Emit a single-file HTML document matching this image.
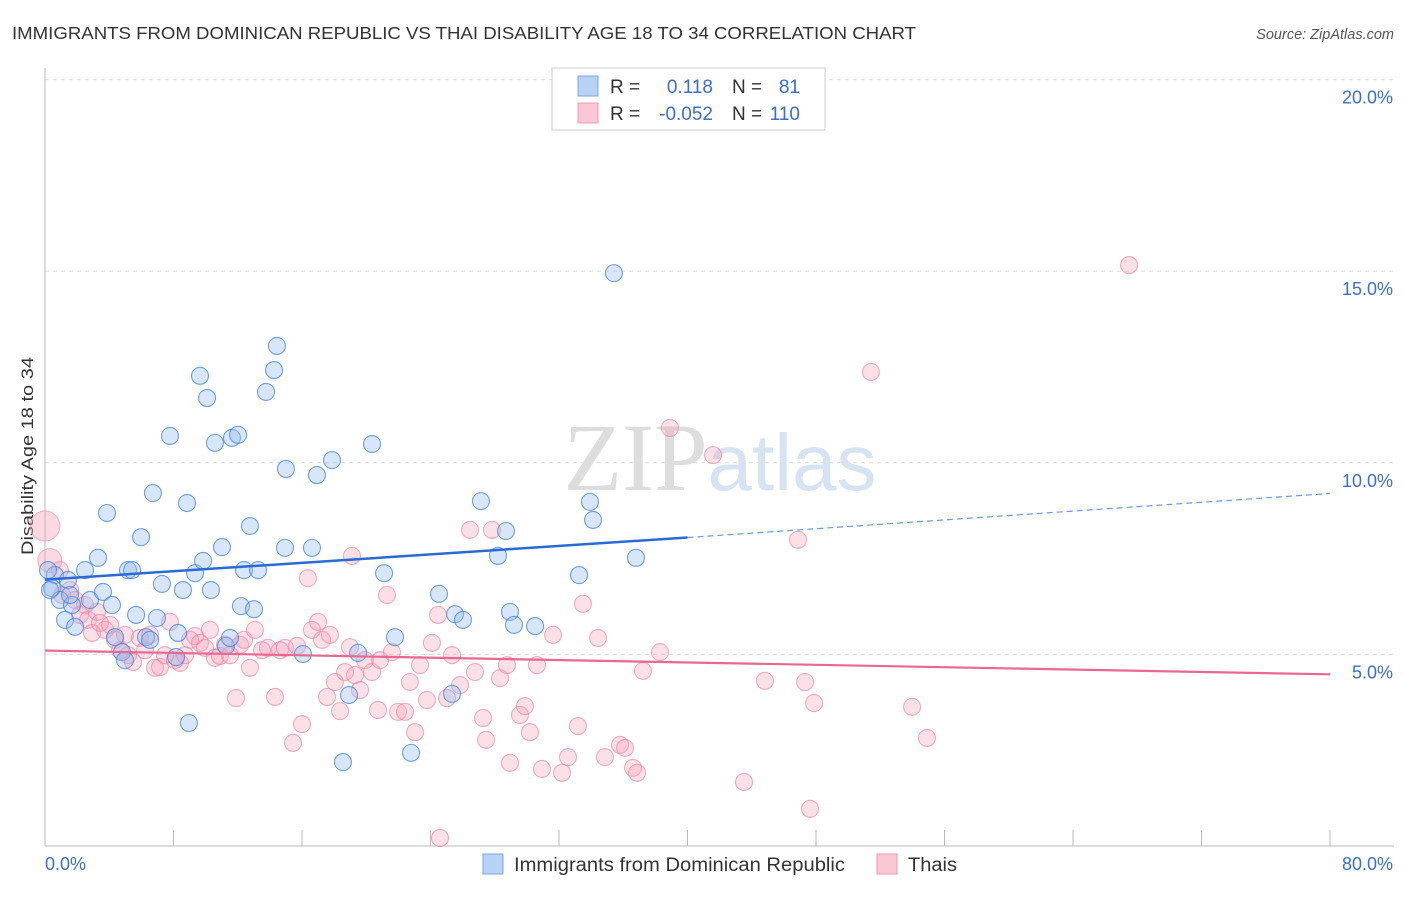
<!DOCTYPE html>
<html><head><meta charset="utf-8"><style>
body{margin:0;background:#fff;font-family:"Liberation Sans",sans-serif}
svg text{font-family:"Liberation Sans",sans-serif}
</style></head><body>
<svg id="c" width="1406" height="892" xmlns="http://www.w3.org/2000/svg">
<text x="12" y="39" font-size="17.5" fill="#333" textLength="904" lengthAdjust="spacingAndGlyphs">IMMIGRANTS FROM DOMINICAN REPUBLIC VS THAI DISABILITY AGE 18 TO 34 CORRELATION CHART</text>
<text x="1394" y="39" font-size="14.5" fill="#555" font-style="italic" text-anchor="end">Source: ZipAtlas.com</text>
<text x="720" y="490" font-size="96" fill="#e4e4e4" text-anchor="middle" font-family="Liberation Serif"><tspan font-family="Liberation Serif" fill="#ddd">ZIP</tspan><tspan fill="#d6e3f3" font-family="Liberation Sans" font-size="80">atlas</tspan></text>
<text x="33" y="456" font-size="17" fill="#333" text-anchor="middle" textLength="198" lengthAdjust="spacingAndGlyphs" transform="rotate(-90 33 456)">Disability Age 18 to 34</text>
<g id="grid"></g><g id="pts"></g><g id="lines"></g>
<g>
<rect x="552" y="68" width="273" height="62" fill="#fff" stroke="#ccc"/>
<rect x="578" y="76" width="20" height="20" fill="#b8d2f5" stroke="#7aa6e0"/>
<rect x="578" y="103" width="20" height="20" fill="#fbc7d5" stroke="#f09ab2"/>
<text x="610" y="93" font-size="19" fill="#333">R =</text>
<text x="713" y="93" font-size="19" fill="#3a6fd0" text-anchor="end">0.118</text>
<text x="732" y="93" font-size="19" fill="#333">N =</text>
<text x="800" y="93" font-size="19" fill="#3a6fd0" text-anchor="end">81</text>
<text x="610" y="120" font-size="19" fill="#333">R =</text>
<text x="713" y="120" font-size="19" fill="#3a6fd0" text-anchor="end">-0.052</text>
<text x="732" y="120" font-size="19" fill="#333">N =</text>
<text x="800" y="120" font-size="19" fill="#3a6fd0" text-anchor="end">110</text>
</g>
<g>
<rect x="483" y="854" width="20" height="20" fill="#b8d2f5" stroke="#7aa6e0"/>
<text x="514" y="871" font-size="19" fill="#333" textLength="331" lengthAdjust="spacingAndGlyphs">Immigrants from Dominican Republic</text>
<rect x="877" y="854" width="20" height="20" fill="#fbc7d5" stroke="#f09ab2"/>
<text x="908" y="871" font-size="19" fill="#333" textLength="49" lengthAdjust="spacingAndGlyphs">Thais</text>
</g>
<text x="45" y="870" font-size="18" fill="#3a6fd0">0.0%</text>
<text x="1393" y="870" font-size="18" fill="#3a6fd0" text-anchor="end">80.0%</text>
</svg>
<script>
const yTicks=[5,10,15,20];
const xTicks=[0,8,16,24,32,40,48,56,64,72,80];
const blueRaw=[[55,575],[52,588],[60,600],[68,580],[65,620],[75,627],[72,605],[85,570],[90,600],[98,558],[103,592],[107,513],[112,605],[115,637],[122,652],[125,660],[128,570],[132,570],[136,615],[141,537],[146,637],[150,640],[153,493],[157,618],[162,584],[170,436],[176,657],[178,633],[183,590],[187,503],[189,723],[195,573],[200,376],[203,561],[207,398],[211,590],[215,443],[222,547],[226,646],[230,638],[232,438],[238,435],[241,606],[244,570],[250,526],[254,609],[258,570],[266,392],[274,370],[277,346],[285,548],[286,469],[303,654],[312,548],[317,475],[332,460],[343,762],[349,695],[358,653],[372,444],[384,573],[395,637],[411,753],[439,594],[452,694],[455,614],[463,620],[481,501],[498,556],[506,531],[510,612],[514,625],[535,626],[590,502],[593,520],[579,575],[614,273],[636,558],[48,570],[50,590],[70,595]];
const pinkRaw=[[60,570],[62,595],[70,590],[75,600],[80,615],[85,605],[88,620],[92,633],[97,612],[100,623],[105,630],[110,625],[115,640],[120,650],[125,635],[128,655],[133,662],[140,638],[145,650],[150,635],[155,668],[160,667],[165,655],[170,622],[175,660],[180,663],[185,655],[190,640],[195,636],[200,643],[205,648],[210,630],[215,658],[220,656],[225,645],[230,655],[236,698],[240,645],[244,640],[250,668],[255,630],[262,650],[268,648],[275,697],[280,650],[285,648],[293,743],[297,646],[302,724],[308,578],[312,630],[318,622],[322,640],[327,697],[330,635],[335,682],[340,711],[345,672],[350,647],[352,556],[355,675],[360,690],[365,660],[372,672],[378,710],[380,660],[387,595],[392,652],[398,712],[405,712],[410,682],[415,732],[420,665],[427,700],[432,643],[438,615],[440,838],[447,698],[452,655],[460,685],[470,530],[475,672],[483,718],[486,740],[492,530],[500,678],[507,665],[510,763],[520,715],[525,706],[530,732],[537,665],[542,769],[553,635],[562,773],[568,757],[578,726],[583,604],[598,638],[605,757],[620,745],[625,748],[633,768],[637,773],[643,671],[660,652],[670,428],[713,455],[744,782],[765,681],[798,540],[805,682],[810,809],[814,703],[871,372],[912,707],[927,738],[1129,265]];
const toD=p=>[+((p[0]-45)/1285*80).toFixed(2),+((846-p[1])/191.6*5).toFixed(2)];
const blueX=blueRaw.map(p=>toD(p)[0]), blueY=blueRaw.map(p=>toD(p)[1]);
const pinkX=pinkRaw.map(p=>toD(p)[0]), pinkY=pinkRaw.map(p=>toD(p)[1]);
const bigPinkX=[0,0.3], bigPinkY=[8.35,7.45], bigPinkR=[15,12];
const blueTrend=[[0,6.95],[40,8.05],[80,9.2]];
const pinkTrend=[[0,5.1],[80,4.48]];
const X=v=>45+v/80*1285, Y=v=>846-v/5*191.6;
const NS='http://www.w3.org/2000/svg';
function mk(t,a,parent){const e=document.createElementNS(NS,t);for(const k in a)e.setAttribute(k,a[k]);parent.appendChild(e);return e;}
const grid=document.getElementById('grid');
yTicks.forEach(v=>{const l=mk('line',{x1:45,x2:1394,y1:Y(v),y2:Y(v),stroke:'#ddd','stroke-dasharray':'4,4'},grid);

const t=mk('text',{x:1393,y:Y(v)+24,'font-size':18,fill:'#3a6fd0','text-anchor':'end'},grid);t.textContent=v.toFixed(1)+'%';
});
const ax=mk('line',{x1:45,x2:1394,y1:846,y2:846,stroke:'#bbb'},grid);

const ay=mk('line',{x1:45,x2:45,y1:68,y2:846,stroke:'#bbb'},grid);

xTicks.forEach(v=>{const l=mk('line',{x1:X(v),x2:X(v),y1:830,y2:846,stroke:'#bbb'},grid);
});
const pts=document.getElementById('pts');
bigPinkX.forEach((x,i)=>{const c=mk('circle',{cx:X(x),cy:Y(bigPinkY[i]),r:bigPinkR[i],fill:'rgba(245,160,185,0.4)',stroke:'rgba(235,130,160,0.6)'},pts);
});
pinkX.forEach((x,i)=>{const c=mk('circle',{cx:X(x),cy:Y(pinkY[i]),r:8.5,fill:'rgba(245,160,185,0.32)',stroke:'rgba(235,130,160,0.65)','stroke-width':1.1},pts);
});
blueX.forEach((x,i)=>{const c=mk('circle',{cx:X(x),cy:Y(blueY[i]),r:8.5,fill:'rgba(150,190,240,0.38)',stroke:'rgba(70,130,215,0.75)','stroke-width':1.1},pts);
});
const lg=document.getElementById('lines');
const b1=mk('line',{x1:X(blueTrend[0][0]),y1:Y(blueTrend[0][1]),x2:X(blueTrend[1][0]),y2:Y(blueTrend[1][1]),stroke:'#2a6ad3','stroke-width':2.5},lg);

const b2=mk('line',{x1:X(blueTrend[1][0]),y1:Y(blueTrend[1][1]),x2:X(blueTrend[2][0]),y2:Y(blueTrend[2][1]),stroke:'#6c9ae0','stroke-width':1.2,'stroke-dasharray':'6,4'},lg);

const p1=mk('line',{x1:X(pinkTrend[0][0]),y1:Y(pinkTrend[0][1]),x2:X(pinkTrend[1][0]),y2:Y(pinkTrend[1][1]),stroke:'#e8688f','stroke-width':2.2},lg);

</script>
</body></html>
